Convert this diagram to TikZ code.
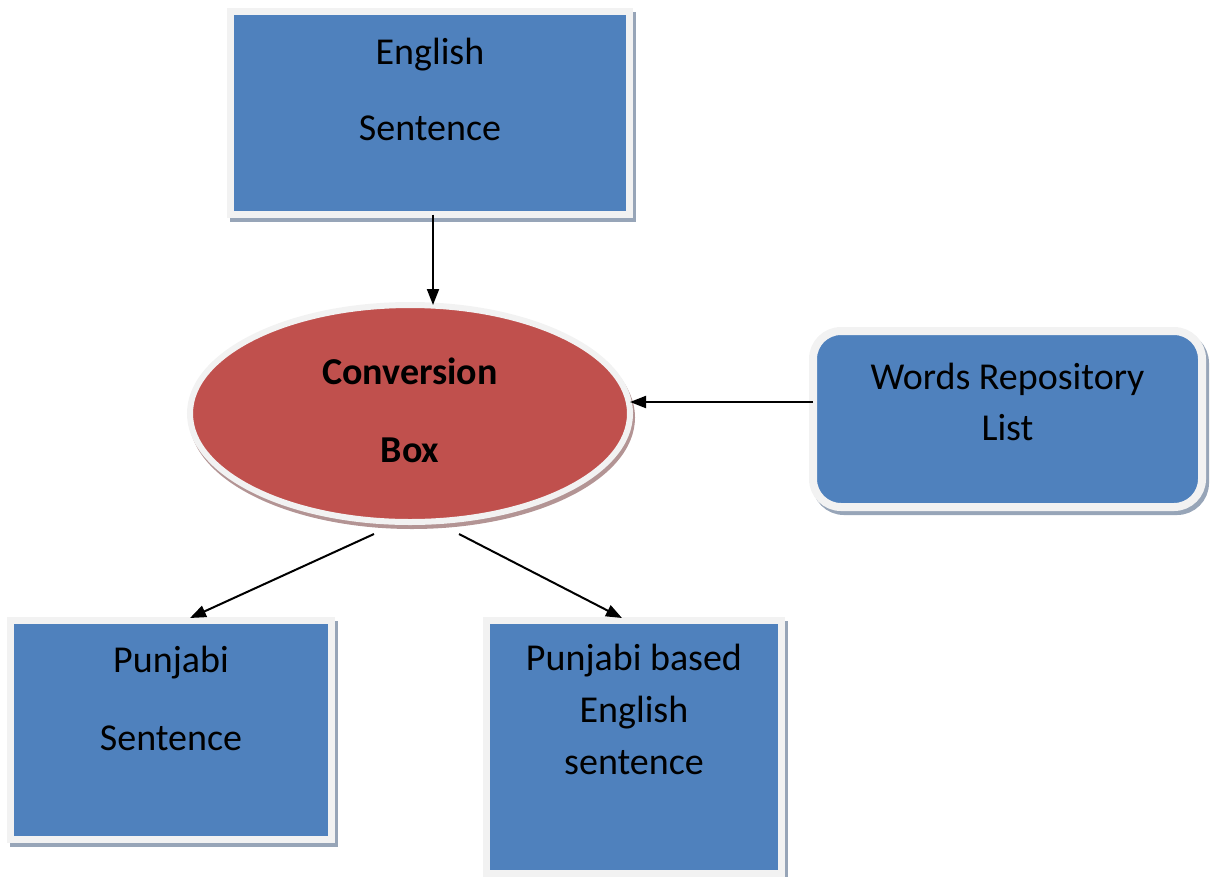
\documentclass[tikz,border=0pt]{standalone}
\usepackage{fontspec}
\setmainfont{Carlito}
\usetikzlibrary{arrows.meta,positioning,shapes.geometric,shadows,calc}
\definecolor{nblue}{HTML}{4F81BD}
\definecolor{nred}{HTML}{C0504D}
\definecolor{nrim}{HTML}{F2F2F2}
\definecolor{nshade}{HTML}{97A5B8}
\definecolor{nshadered}{HTML}{B39494}
\tikzset{
  box/.style={draw=nrim, fill=nblue, line width=7pt, outer sep=0pt, inner sep=0pt,
              general shadow={draw=nshade, fill=nshade, shadow xshift=3pt, shadow yshift=-4pt}},
  rbox/.style={box, rounded corners=28pt, line width=8pt},
  oval/.style={ellipse, draw=nrim, fill=nred, line width=6pt, outer sep=0pt, inner sep=0pt,
               general shadow={draw=nshadered, fill=nshadered, shadow xshift=2pt, shadow yshift=-4pt}},
  txt/.style={align=center, inner sep=0pt, font=\fontsize{38pt}{51pt}\selectfont},
  arr/.style={-{Triangle[length=16pt,width=12pt]}, draw=black, line width=2pt},
}
\begin{document}
\begin{tikzpicture}[x=1pt, y=-1pt]
  \useasboundingbox (0,0) rectangle (1214,876);
  % boxes
  \node[box, minimum width=399pt, minimum height=203pt] (eng) at (430,113) {};
  \node[oval, minimum width=440pt, minimum height=217pt] (conv) at (410,413.5) {};
  \node[rbox, minimum width=389pt, minimum height=176pt] (wrl) at (1007.5,419) {};
  \node[box, minimum width=321pt, minimum height=219pt] (pun) at (171,730) {};
  \node[box, minimum width=295pt, minimum height=253pt] (pbe) at (634,747) {};
  % texts
  \node[txt, below=26pt of eng.north] (engtext) {English\\[25pt]Sentence};
  \node[txt, font=\fontsize{38pt}{51pt}\selectfont\bfseries, below=52.5pt of conv.north] (convtext) {Conversion\\[27pt]Box};
  \node[txt, below=32pt of wrl.north] (wrltext) {Words Repository\\List};
  \node[txt, below=25pt of pun.north] (puntext) {Punjabi\\[27pt]Sentence};
  \node[txt, below=23.5pt of pbe.north] (pbetext) {Punjabi based\\[1pt]English\\[1pt]sentence};
  % arrows
  \draw[arr] ([xshift=3pt]eng.south) -- ([xshift=3pt]eng.south |- conv.north);
  \draw[arr] ([yshift=17pt]wrl.west) -- ([yshift=17pt]wrl.west -| conv.east);
  \draw[arr] ($(conv.south)+(-36,12)$) -- ($(pun.north)+(19,-2.5)$);
  \draw[arr] ($(conv.south)+(49,12)$) -- ($(pbe.north)+(-12,-2.5)$);
\end{tikzpicture}
\end{document}
